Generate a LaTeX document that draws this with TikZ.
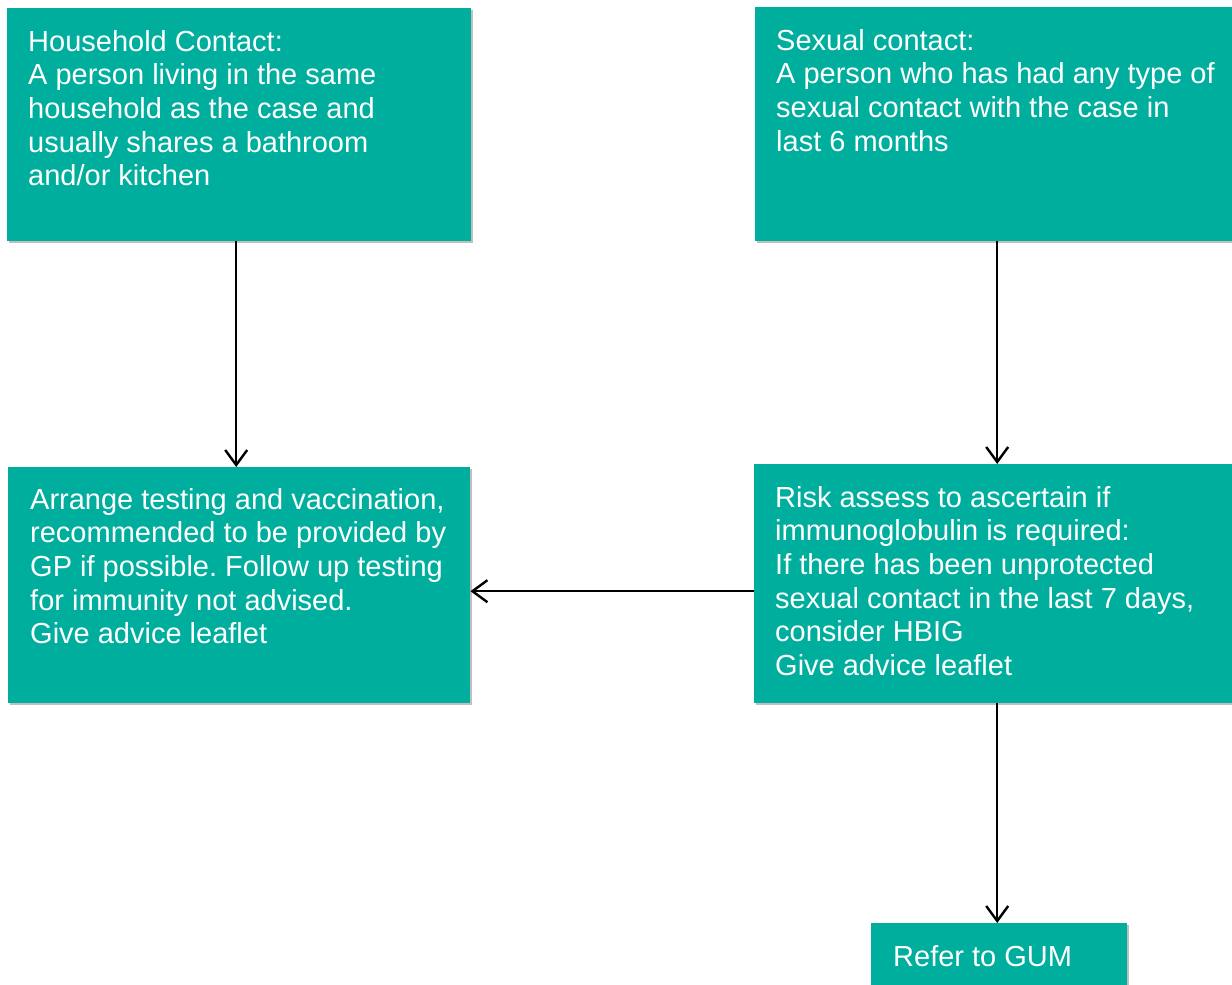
\documentclass[tikz,border=0pt]{standalone}
\usepackage{fontspec}
\setmainfont{Liberation Sans}
\usetikzlibrary{arrows.meta,shadows}
\definecolor{tealbox}{RGB}{0,174,157}
\frenchspacing
\begin{document}
\begin{tikzpicture}[x=1pt,y=-1pt,
  box/.style={rectangle, fill=tealbox, draw=none, inner sep=0pt, anchor=north west,
    drop shadow={shadow xshift=2pt, shadow yshift=-2pt, opacity=0.25, fill=black}},
  txt/.style={text=white, align=left, inner sep=0pt, anchor=base west,
    font=\fontsize{29}{33.6}\selectfont},
  arr/.style={line width=2.4pt, -{Straight Barb[length=15pt,width=22pt]}}]
\path[use as bounding box, clip] (0,0) rectangle (1232,985);

\node[box, minimum width=464pt, minimum height=233pt] (hh) at (7,8) {};
\node[box, minimum width=484pt, minimum height=234pt] (sx) at (755,7) {};
\node[box, minimum width=462pt, minimum height=236pt] (ar) at (8,467) {};
\node[box, minimum width=486pt, minimum height=239pt] (rk) at (754,464) {};
\node[box, minimum width=256pt, minimum height=80pt] (gum) at (871,923) {};

\node[txt] (thh) at (28,185.7) {Household Contact:\\A person living in the same\\household as the case and\\usually shares a bathroom\\and/or kitchen};
\node[txt] (tsx) at (776,151.1) {Sexual contact:\\A person who has had any type of\\sexual contact with the case in\\last 6 months};
\node[txt] (tar) at (30,643.7) {Arrange testing and vaccination,\\recommended to be provided by\\GP if possible. Follow up testing\\for immunity not advised.\\Give advice leaflet};
\node[txt] (trk) at (775,675.3) {Risk assess to ascertain if\\immunoglobulin is required:\\If there has been unprotected\\sexual contact in the last 7 days,\\consider HBIG\\Give advice leaflet};
\node[txt] (tgum) at (893,966.3) {Refer to GUM};

\draw[arr] ([xshift=-3pt]hh.south) -- ([xshift=-3pt]hh.south |- ar.north);
\draw[arr] (sx.south) -- (sx.south |- rk.north);
\draw[arr] ([yshift=-7.5pt]rk.west) -- ([yshift=-7.5pt]rk.west -| ar.east);
\draw[arr] (rk.south) -- (rk.south |- gum.north);
\end{tikzpicture}
\end{document}
